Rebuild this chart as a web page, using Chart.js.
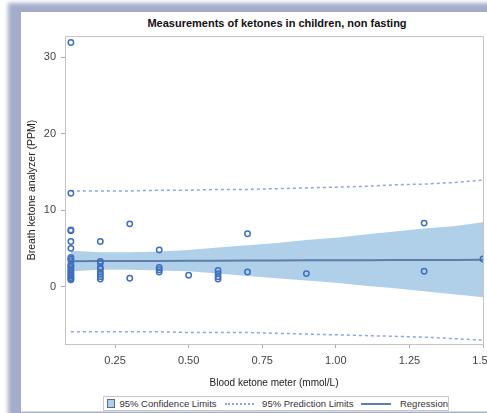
<!DOCTYPE html>
<html lang="en">
<head>
  <meta charset="UTF-8">
  <title>Measurements of ketones in children, non fasting</title>
  <script src="https://cdn.jsdelivr.net/npm/chart.js"></script>
  <style>
    body {
      margin: 0;
      width: 487px;
      height: 413px;
      overflow: hidden;
      position: relative;
      background: #fff;
      font-family: "Liberation Sans", Arial, sans-serif;
    }
    .shadow {
      position: absolute;
      left: 8px;
      top: 3px;
      width: 620px;
      height: 440px;
      background: #a3acca;
      filter: blur(2px);
    }
    .panel {
      position: absolute;
      left: 21px;
      top: 12px;
      width: 600px;
      height: 399px;
      background: #fff;
      border-bottom: 1px solid #dcdcdc;
    }
    .title {
      position: absolute;
      left: 21px;
      width: 512px;
      top: 17px;
      text-align: center;
      font-weight: bold;
      font-size: 11px;
      color: #111;
    }
    #wrap {
      position: absolute;
      left: 0;
      top: 0;
      width: 495px;
      height: 393px;
    }
    .legend {
      position: absolute;
      left: 103px;
      top: 396px;
      width: 344px;
      height: 13px;
      border: 1px solid #c8c8c8;
      font-size: 9.5px;
      color: #333;
      display: flex;
      align-items: center;
      white-space: nowrap;
    }
    .legend .box {
      display: inline-block;
      width: 7px;
      height: 7px;
      background: #b0cfe8;
      border: 1px solid #4d6d9c;
      margin: 0 4px 0 3px;
    }
    .legend .dash {
      display: inline-block;
      width: 32px;
      border-top: 2px dotted #8fa5dc;
      margin: 0 8px 0 8px;
    }
    .legend .solid {
      display: inline-block;
      width: 32px;
      border-top: 2px solid #5b7fa6;
      margin: 0 9px 0 8px;
    }
  </style>
</head>
<body>
  <div class="shadow"></div>
  <div class="panel"></div>
  <div class="title">Measurements of ketones in children, non fasting</div>
  <div id="wrap"><canvas id="ketoneChart" width="495" height="393"></canvas></div>
  <div class="legend">
    <span class="box"></span>95% Confidence Limits
    <span class="dash"></span>95% Prediction Limits
    <span class="solid"></span>Regression
  </div>

  <script>
    // observed measurements
    const bloodKetone = [
      0.1, 0.1, 0.1, 0.1, 0.1, 0.1, 0.1, 0.1, 0.1, 0.1, 0.1, 0.1, 0.1, 0.1, 0.1, 0.1, 0.1, 0.1, 0.1, 0.1,
      0.2, 0.2, 0.2, 0.2, 0.2, 0.2, 0.2, 0.2, 0.2,
      0.3, 0.3,
      0.4, 0.4, 0.4, 0.4,
      0.5,
      0.6, 0.6, 0.6, 0.6,
      0.7, 0.7,
      0.9,
      1.3, 1.3,
      1.5
    ];
    const breathKetone = [
      31.9, 12.2, 7.4, 7.3, 5.9, 5.0, 3.8, 3.6, 3.4, 2.9, 2.7, 2.5, 2.2, 2.0, 1.8, 1.6, 1.4, 1.2, 1.0, 0.9,
      5.9, 3.3, 3.1, 2.5, 2.3, 1.9, 1.6, 1.3, 1.0,
      8.2, 1.1,
      4.8, 2.5, 2.2, 1.9,
      1.5,
      2.1, 1.7, 1.3, 1.0,
      6.9, 1.9,
      1.7,
      8.3, 2.0,
      3.6
    ];

    // fit, confidence and prediction limits read along the x axis
    const fitX = [0.1, 0.2, 0.3, 0.4, 0.5, 0.6, 0.7, 0.8, 0.9, 1.0, 1.1, 1.2, 1.3, 1.4, 1.5];
    const regression = [3.33, 3.34, 3.35, 3.36, 3.38, 3.39, 3.40, 3.41, 3.43, 3.44, 3.45, 3.47, 3.48, 3.49, 3.50];
    const clUpper = [4.7, 4.5, 4.5, 4.6, 4.8, 5.1, 5.4, 5.7, 6.1, 6.4, 6.8, 7.2, 7.6, 7.9, 8.4];
    const clLower = [2.0, 2.2, 2.2, 2.1, 2.0, 1.7, 1.4, 1.1, 0.8, 0.5, 0.1, -0.2, -0.6, -1.0, -1.4];
    const plUpper = [12.5, 12.5, 12.5, 12.6, 12.6, 12.7, 12.7, 12.8, 12.9, 13.0, 13.1, 13.3, 13.4, 13.6, 13.9];
    const plLower = [-5.9, -5.9, -5.9, -5.9, -6.0, -6.0, -6.0, -6.1, -6.2, -6.3, -6.4, -6.5, -6.6, -6.8, -7.0];

    const xTicks = [0.25, 0.50, 0.75, 1.00, 1.25, 1.50];
    const yTicks = [0, 10, 20, 30];

    const regular = '"Liberation Sans", Arial, sans-serif';
    const narrow = '"Liberation Sans Narrow", "Liberation Sans", Arial, sans-serif';
    const pts = (xs, ys) => xs.map((x, i) => ({ x: x, y: ys[i] }));

    const line = (data, extra) => Object.assign({
      data: data,
      showLine: true,
      pointRadius: 0,
      borderWidth: 0,
      fill: false
    }, extra);

    // thin box around the plot area
    const frame = {
      id: 'frame',
      beforeDatasetsDraw(chart) {
        const a = chart.chartArea;
        const c = chart.ctx;
        c.save();
        c.strokeStyle = '#c4c4c4';
        c.lineWidth = 1;
        c.strokeRect(a.left + 0.5, a.top + 0.5, a.right - a.left, a.bottom - a.top);
        c.restore();
      }
    };

    new Chart(document.getElementById('ketoneChart'), {
      type: 'scatter',
      data: {
        datasets: [
          {
            data: pts(bloodKetone, breathKetone),
            pointStyle: 'circle',
            pointRadius: 2.7,
            pointBorderWidth: 1.5,
            borderColor: '#3f6fc2',
            backgroundColor: 'rgba(255,255,255,0)'
          },
          line(pts(fitX, regression), { borderColor: '#5b7fa6', borderWidth: 2 }),
          line(pts(fitX, clLower), { borderColor: 'rgba(0,0,0,0)' }),
          line(pts(fitX, clUpper), { borderColor: 'rgba(0,0,0,0)', fill: 2, backgroundColor: '#b0cfe8' }),
          line(pts(fitX, plUpper), { borderColor: '#8fa5dc', borderWidth: 1.5, borderDash: [3, 3] }),
          line(pts(fitX, plLower), { borderColor: '#8fa5dc', borderWidth: 1.5, borderDash: [3, 3] })
        ]
      },
      options: {
        responsive: false,
        animation: false,
        layout: { padding: { top: 36, left: 22, right: 12, bottom: 0 } },
        plugins: {
          legend: { display: false },
          tooltip: { enabled: false }
        },
        scales: {
          x: {
            type: 'linear',
            min: 0.08,
            max: 1.5,
            afterBuildTicks: s => { s.ticks = xTicks.map(v => ({ value: v })); },
            afterFit: s => { s.height = 49; s.paddingLeft = 0; s.paddingRight = 0; },
            grid: { drawOnChartArea: false, tickLength: 4, color: '#aaa' },
            border: { display: false },
            ticks: {
              padding: 6,
              color: '#444',
              font: { family: narrow, size: 11 },
              callback: v => v.toFixed(2)
            },
            title: {
              display: true,
              text: 'Blood ketone meter (mmol/L)',
              color: '#222',
              font: { family: regular, size: 10 }
            }
          },
          y: {
            min: -7.5,
            max: 32.75,
            afterBuildTicks: s => { s.ticks = yTicks.map(v => ({ value: v })); },
            afterFit: s => { s.width = 43; },
            grid: { drawOnChartArea: false, tickLength: 4, color: '#aaa' },
            border: { display: false },
            ticks: {
              padding: 5,
              color: '#444',
              font: { family: narrow, size: 11 }
            },
            title: {
              display: true,
              text: 'Breath ketone analyzer (PPM)',
              color: '#222',
              font: { family: narrow, size: 10.5 }
            }
          }
        }
      },
      plugins: [frame]
    });
  </script>
</body>
</html>
